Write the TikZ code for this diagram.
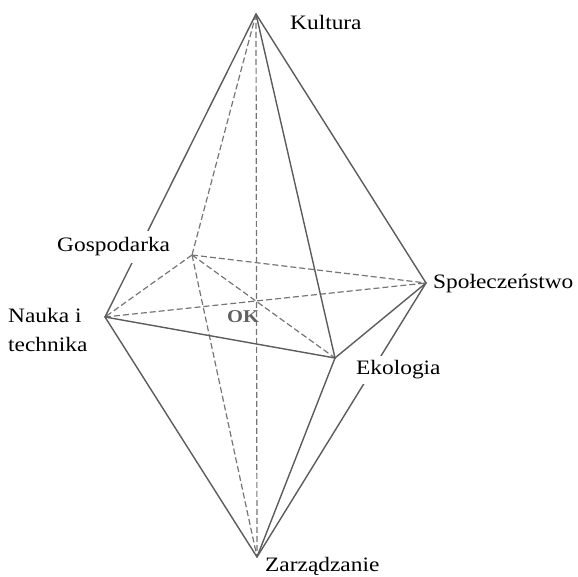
\documentclass[tikz,border=0pt]{standalone}
\usepackage{fontspec}
\setmainfont[FakeStretch=1.14]{Liberation Serif}
\begin{document}
\begin{tikzpicture}[x=1pt,y=1pt,
  edge/.style={draw=black!64, line width=1.4pt, line cap=round},
  hidden/.style={draw=black!54, line width=1.2pt, dash pattern=on 6pt off 3pt},
  lbl/.style={font=\fontsize{20.5}{29}\selectfont, text=black, fill=white, inner xsep=3pt, inner ysep=5pt, anchor=base west, align=left},
  oklbl/.style={font=\fontsize{18}{20}\selectfont\bfseries, text=black!62, inner sep=0pt, anchor=base west}]
\useasboundingbox (0,0) rectangle (578,577);
% vertices
\coordinate (T) at (256,563);
\coordinate (B) at (257,20);
\coordinate (N) at (105,260);
\coordinate (G) at (192,322);
\coordinate (S) at (426,294);
\coordinate (E) at (335,219);
% hidden edges
\draw[hidden] (T) -- (B);
\draw[hidden] (T) -- (G);
\draw[hidden] (G) -- (N);
\draw[hidden] (G) -- (S);
\draw[hidden] (G) -- (E);
\draw[hidden] (N) -- (S);
\draw[hidden] (G) -- (B);
% visible edges
\draw[edge] (T) -- (N);
\draw[edge] (T) -- (E);
\draw[edge] (T) -- (S);
\draw[edge] (N) -- (E);
\draw[edge] (E) -- (S);
\draw[edge] (N) -- (B);
\draw[edge] (E) -- (B);
\draw[edge] (S) -- (B);
% labels
\node[lbl] (kul) at (287,547) {Kultura};
\node[lbl, inner ysep=7pt] (gos) at (54,325) {Gospodarka};
\node[lbl] (nau) at (5,225) {Nauka i\\technika};
\node[lbl] (spo) at (430,288) {Społeczeństwo};
\node[lbl] (eko) at (353,202) {Ekologia};
\node[lbl] (zar) at (262,5) {Zarządzanie};
\node[oklbl] (ok) at (227,254) {OK};
\end{tikzpicture}
\end{document}
